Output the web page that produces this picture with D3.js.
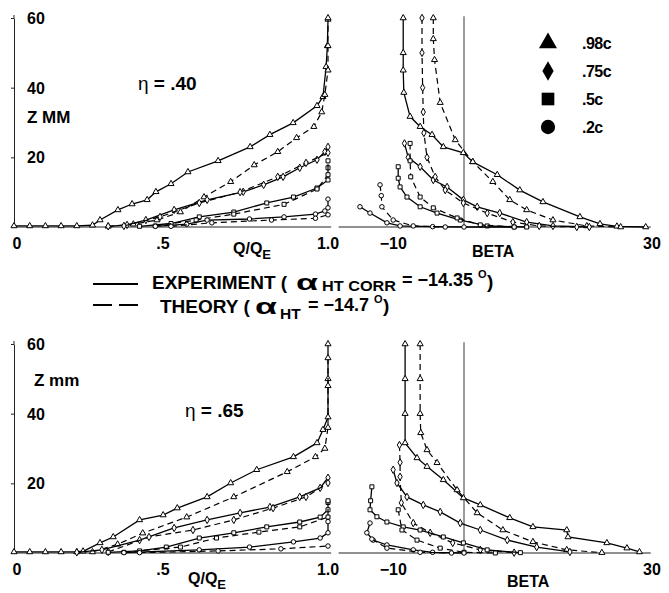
<!DOCTYPE html>
<html><head><meta charset="utf-8">
<script src="https://cdn.jsdelivr.net/npm/d3@7"></script>
<style>
html,body{margin:0;padding:0;background:#fff;}
text{font-family:"Liberation Sans",Arial,Helvetica,sans-serif;font-weight:bold;fill:#000;}
</style></head>
<body>
<script>
// ---------------- DATA ----------------
const seriesNames = [".98c", ".75c", ".5c", ".2c"];
const zTicks = [20, 40, 60];
const qTicks = [0, 0.5, 1.0];
const qTickLabels = ["0", ".5", "1.0"];
const bTicks = [-10, 30];
const bTickLabels = ["\u221210", "30"];

// eta = .40, Q/QE vs Z  [Q/QE, Z mm]
const e40Q98exp = [[0,0.3],[0.05,0.3],[0.1,0.3],[0.15,0.3],[0.2,0.3],[0.25,0.5],[0.274,2.0],[0.331,4.9],[0.376,6.6],[0.424,7.8],[0.452,10.1],[0.5,12.4],[0.554,15.8],[0.65,19.0],[0.752,23.0],[0.815,26.5],[0.889,29.9],[0.965,34.8],[0.984,37.4],[0.994,46],[0.998,52],[1.0,59.6]];
const e40Q98th  = [[0.3,0.2],[0.38,0.8],[0.455,2],[0.53,4.3],[0.605,8.6],[0.69,13],[0.765,17.8],[0.84,21.6],[0.9,25.6],[0.955,28.8],[0.98,33],[0.99,38],[1.0,45],[1.0,52],[1.0,60]];
const e40Q75exp = [[0.3,0.2],[0.36,0.6],[0.42,2],[0.51,4.9],[0.615,7.8],[0.73,10.1],[0.795,12.1],[0.857,14.4],[0.91,17],[0.965,19.3],[0.99,21.6],[1.0,23]];
const e40Q75th  = [[0.35,0.3],[0.465,2.9],[0.59,6.9],[0.72,10],[0.84,14.4],[0.93,18.4],[1.0,21.3]];
const e40Q50exp = [[0.4,0.2],[0.5,1],[0.59,2.9],[0.70,4.3],[0.805,6.9],[0.89,8.6],[0.965,11.2],[1.0,13.5],[1.0,17]];
const e40Q50th  = [[0.45,0.3],[0.58,2],[0.70,3.7],[0.86,6.5],[0.965,10.9],[1.0,15],[1.0,19]];
const e40Q20exp = [[0.45,0.2],[0.55,0.8],[0.615,2],[0.75,2.3],[0.86,2.9],[0.96,3.7],[0.99,4.6],[1.0,5.5],[1.0,8]];
const e40Q20th  = [[0.5,0.2],[0.63,1.2],[0.82,2],[0.96,2.5],[1.0,3.5]];

// eta = .40, BETA vs Z  [beta deg, Z mm]
const e40B98exp = [[-9.7,60],[-9.7,50],[-9.7,45],[-9.6,38.6],[-8.6,31.7],[-7.0,28.8],[-5.1,26.5],[-3.3,23],[-0.1,21.3],[1.4,18.7],[5.3,15],[8.9,10.6],[12.6,7.2],[18.5,2.9],[21.7,0.9],[24.4,0.2],[29,0]];
const e40B98th  = [[-4.9,60],[-4.9,54],[-4.7,48],[-3.8,35.7],[-1.4,25],[1.4,18.7],[4.6,13],[7.3,7.8],[10,4.9],[14.2,2],[19.6,0.3],[25,0]];
const e40B75exp = [[-9.5,24],[-8.9,20],[-7,17.3],[-4.9,13.5],[-2.7,11.5],[-0.1,7.8],[2.1,5.8],[5.7,4],[10,1.4],[14.2,0.3],[20,0]];
const e40B75th  = [[-6.7,60],[-6.7,50],[-6.6,40],[-6.5,33],[-6.4,27],[-5.9,20],[-4.6,14.4],[-3.0,10.6],[-0.1,6.9],[3.7,4],[7.8,1.4],[12,0.3],[18,0]];
const e40B50exp = [[-10.5,17.3],[-10.5,14],[-10.2,11.5],[-9.1,8.6],[-7,5.8],[-4.3,4],[-0.6,2],[3.7,0.3],[10,0]];
const e40B50th  = [[-8.6,24],[-8.6,19],[-8.5,14.4],[-7,8.6],[-4.9,5.5],[-1.1,2.6],[2.6,0.6],[8,0]];
const e40B20exp = [[-16.6,5.8],[-15,4],[-12.3,1.2],[-10.2,0.3],[-5,0.1],[0,0],[8,0]];
const e40B20th  = [[-13.4,12.1],[-13.2,9],[-13.1,5.8],[-11.3,2],[-8.1,0.3],[-3,0]];

// eta = .65, Q/QE vs Z
const e65Q98exp = [[0,0.3],[0.05,0.3],[0.1,0.3],[0.15,0.3],[0.2,0.3],[0.22,0.5],[0.274,2.9],[0.316,4.6],[0.40,9.5],[0.475,10.9],[0.52,12.9],[0.615,16.1],[0.69,20.1],[0.773,23.9],[0.89,27.6],[0.965,31.6],[0.984,35.4],[1.0,39],[1.0,50],[1.0,60]];
const e65Q98th  = [[0.25,0.3],[0.33,2.5],[0.41,5.7],[0.55,10.3],[0.70,16.1],[0.87,23.3],[0.96,27.6],[0.99,30],[1.0,36],[1.0,48],[1.0,56]];
const e65Q75exp = [[0.2,0.2],[0.28,0.9],[0.40,3.7],[0.51,7.2],[0.615,9.5],[0.72,11.5],[0.815,13.2],[0.91,16.1],[0.975,18.7],[1.0,21.6]];
const e65Q75th  = [[0.3,0.3],[0.43,4.6],[0.57,6.6],[0.70,9.5],[0.825,12.9],[0.93,16.1],[1.0,20.1]];
const e65Q50exp = [[0.3,0.2],[0.4,0.6],[0.485,1.7],[0.59,4.3],[0.70,5.8],[0.805,7.5],[0.91,8.9],[0.975,10.3],[1.0,12.4],[1.0,14.5]];
const e65Q50th  = [[0.35,0.2],[0.53,1.7],[0.645,4.3],[0.78,6],[0.91,7.5],[1.0,10.3],[1.0,15]];
const e65Q20exp = [[0.35,0.1],[0.59,0.9],[0.75,1.7],[0.89,3.2],[0.975,4.3],[1.0,5.8],[1.0,9]];
const e65Q20th  = [[0.4,0.1],[0.65,0.6],[0.85,1.2],[1.0,2.0]];

// eta = .65, BETA vs Z
const e65B98exp = [[-9.4,60],[-9.4,50],[-9.4,40],[-9.4,31.6],[-7.5,27.3],[-5.9,24.8],[-3.3,21],[-0.1,15.8],[2.6,13.8],[7.3,10.1],[11,7.5],[16.4,6.6],[16.6,4.6],[22.8,2.9],[26,1.4],[28,0.3]];
const e65B98th  = [[-7,60],[-7,50],[-7,40],[-6.9,34.5],[-5.9,29.6],[-4.3,25.9],[-1.1,18.1],[2.1,11.5],[6.2,6.6],[11,3.2],[16.4,0.9],[22,0.1]];
const e65B75exp = [[-11.3,23.9],[-10.7,20.1],[-9.1,16.1],[-6.5,13.8],[-3.8,11.8],[-0.6,8.6],[2.6,6.6],[6.9,3.7],[11.6,1.7],[16.9,0.3]];
const e65B75th  = [[-10.3,31],[-10.2,26],[-10.2,21.9],[-10.0,14.4],[-8.1,8.6],[-5.4,5.8],[-1.8,2.9],[2.6,0.9],[8,0.1]];
const e65B50exp = [[-14.7,19],[-14.9,15],[-15,12.4],[-13.9,10.4],[-12.3,8.9],[-9.7,7.5],[-7,6.6],[-3.3,4.6],[-0.1,2.9],[3.7,0.9],[9,0.1]];
const e65B50th  = [[-10.5,12.4],[-9.9,6.6],[-7.5,3.7],[-3.8,1.4],[0,0.2],[5,0]];
const e65B20exp = [[-15,8.6],[-15.5,5.8],[-14.5,3.7],[-12.3,2.3],[-8.1,0.9],[-5,0.2],[0,0]];
const e65B20th  = [[-14.7,4],[-12.3,1.4],[-7,0.2],[-2,0]];

// ---------------- DRAW ----------------
const W = 669, H = 593;
const svg = d3.select("body").append("svg").attr("width", W).attr("height", H);

const qX = d3.scaleLinear().domain([0, 1]).range([14, 328]);
const bX = d3.scaleLinear().domain([0, 30]).range([464, 652]);
const yTop = d3.scaleLinear().domain([0, 60]).range([227, 18]);
const yBot = d3.scaleLinear().domain([0, 60]).range([553, 344]);

const symTypes = [d3.symbolTriangle, d3.symbolDiamond, d3.symbolSquare, d3.symbolCircle];

const panels = [
  { x: qX, y: yTop, sets: [[e40Q98exp, e40Q98th], [e40Q75exp, e40Q75th], [e40Q50exp, e40Q50th], [e40Q20exp, e40Q20th]] },
  { x: bX, y: yTop, sets: [[e40B98exp, e40B98th], [e40B75exp, e40B75th], [e40B50exp, e40B50th], [e40B20exp, e40B20th]] },
  { x: qX, y: yBot, sets: [[e65Q98exp, e65Q98th], [e65Q75exp, e65Q75th], [e65Q50exp, e65Q50th], [e65Q20exp, e65Q20th]] },
  { x: bX, y: yBot, sets: [[e65B98exp, e65B98th], [e65B75exp, e65B75th], [e65B50exp, e65B50th], [e65B20exp, e65B20th]] }
];

// axes
[yTop, yBot].forEach(y => {
  const ax = svg.append("g").attr("transform", `translate(${qX(0)},0)`)
    .call(d3.axisLeft(y).tickValues(zTicks).tickSize(3).tickSizeOuter(0).tickFormat(""));
  ax.select(".domain").attr("stroke", "#222").attr("stroke-width", 1);
  ax.selectAll(".tick line").attr("stroke", "#222");
  svg.append("line").attr("x1", qX(0)).attr("x2", qX(0)).attr("y1", y(60) - 3).attr("y2", y(60))
    .attr("stroke", "#222");
  svg.append("line").attr("x1", qX(0)).attr("x2", qX(1.01)).attr("y1", y(0)).attr("y2", y(0))
    .attr("stroke", "#222").attr("stroke-width", 1.2);
  svg.append("line").attr("x1", bX(-20)).attr("x2", bX(29.8)).attr("y1", y(0)).attr("y2", y(0))
    .attr("stroke", "#222").attr("stroke-width", 1.2);
  svg.append("line").attr("x1", bX(0)).attr("x2", bX(0)).attr("y1", y(0)).attr("y2", y(60.5))
    .attr("stroke", "#222").attr("stroke-width", 0.9);
  svg.append("g").selectAll("text").data(zTicks).join("text")
    .attr("x", qX(0) + 13).attr("y", d => y(d) + 6)
    .attr("font-size", 16).text(d => d);
});

// x tick labels
[yTop, yBot].forEach(y => {
  const ly = y(0) + 22;
  svg.append("g").selectAll("text").data(qTicks).join("text")
    .attr("x", (d, k) => qX(d) + [3, -8, 0][k]).attr("y", ly)
    .attr("text-anchor", "middle").attr("font-size", 16)
    .text((d, k) => qTickLabels[k]);
  svg.append("g").selectAll("text").data(bTicks).join("text")
    .attr("x", (d, k) => bX(d) + [-8, 0][k]).attr("y", ly)
    .attr("text-anchor", "middle").attr("font-size", 16)
    .text((d, k) => bTickLabels[k]);
});

// axis titles
function qTitle(x, y) {
  const t = svg.append("text").attr("x", x).attr("y", y).attr("font-size", 16);
  t.append("tspan").text("Q/Q");
  t.append("tspan").attr("dy", 5).attr("font-size", 13).text("E");
}
qTitle(233, 254);
qTitle(188, 584);
svg.append("text").attr("x", 472).attr("y", 257).attr("font-size", 16).text("BETA");
svg.append("text").attr("x", 507).attr("y", 587).attr("font-size", 16).text("BETA");
svg.append("text").attr("x", 27).attr("y", 123).attr("font-size", 17).text("Z MM");
svg.append("text").attr("x", 34).attr("y", 386).attr("font-size", 17).text("Z mm");

function etaLabel(x, y, v) {
  const t = svg.append("text").attr("x", x).attr("y", y).attr("font-size", 19);
  t.append("tspan").attr("font-weight", "normal").text("\u03b7");
  t.append("tspan").text(" = " + v);
}
etaLabel(138, 90, ".40");
etaLabel(185, 417, ".65");

// curves
const gCurves = svg.append("g");
panels.forEach(p => {
  const line = d3.line().x(d => p.x(d[0])).y(d => p.y(d[1]));
  p.sets.forEach((pair, si) => {
    pair.forEach((data, k) => {
      gCurves.append("path").attr("d", line(data)).attr("fill", "none")
        .attr("stroke", "#000").attr("stroke-width", k === 0 ? 1.3 : 1.2)
        .attr("stroke-dasharray", k === 0 ? null : "6,4");
      gCurves.append("g").selectAll("path").data(data).join("path")
        .attr("transform", d => `translate(${p.x(d[0])},${p.y(d[1])})`)
        .attr("d", d3.symbol().type(symTypes[si]).size(16))
        .attr("fill", "#fff").attr("stroke", "#000").attr("stroke-width", 1);
    });
  });
});

// symbol legend (top right)
const legY = [43, 71, 99, 127];
seriesNames.forEach((n, i) => {
  svg.append("path").attr("transform", `translate(548,${legY[i]})`)
    .attr("d", d3.symbol().type(symTypes[i]).size([140, 110, 160, 160][i])).attr("fill", "#000");
  svg.append("text").attr("x", 582).attr("y", legY[i] + 6).attr("font-size", 16)
    .attr("letter-spacing", -0.5).text(n);
});

// line style legend (middle)
svg.append("line").attr("x1", 93).attr("x2", 138).attr("y1", 284).attr("y2", 284)
  .attr("stroke", "#000").attr("stroke-width", 2);
svg.append("line").attr("x1", 93).attr("x2", 138).attr("y1", 305).attr("y2", 305)
  .attr("stroke", "#000").attr("stroke-width", 2).attr("stroke-dasharray", "19,7");
function txt(x, y, s, str, len) {
  const t = svg.append("text").attr("x", x).attr("y", y).attr("font-size", s).text(str);
  if (len) t.attr("textLength", len).attr("lengthAdjust", "spacingAndGlyphs");
  return t;
}
txt(152, 289, 19, "EXPERIMENT (");
txt(296, 289.5, 22, "\u03b1", 22);
txt(322, 291, 15.5, "HT CORR", 74);
txt(402, 286, 18, "= \u221214.35");
txt(478, 278, 11, "O");
txt(487, 288, 19, ")");
txt(160, 313, 19, "THEORY (");
txt(255, 314, 22, "\u03b1", 22);
txt(280, 319, 15.5, "HT");
txt(308, 311, 18, "= \u221214.7");
txt(374, 303, 11, "O");
txt(383, 312, 19, ")");
</script>
</body></html>
